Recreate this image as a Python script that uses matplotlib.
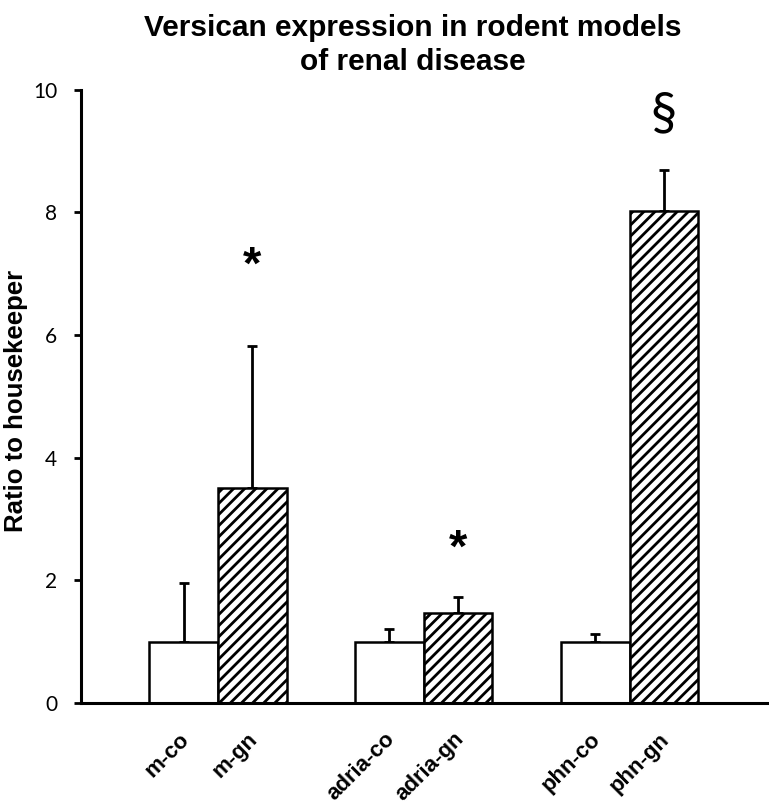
import matplotlib
matplotlib.use("Agg")
import matplotlib.pyplot as plt
import matplotlib.transforms as mtransforms

categories = ["m-co", "m-gn", "adria-co", "adria-gn", "phn-co", "phn-gn"]
positions = [0, 1, 3, 4, 6, 7]
values = [1.0, 3.5, 1.0, 1.47, 1.0, 8.02]
err_upper = [0.95, 2.32, 0.2, 0.26, 0.12, 0.68]
hatched = [False, True, False, True, False, True]
marks = {1: ("*", 6.75), 3: ("*", 2.14), 5: ("§", 9.2)}

plt.rcParams['hatch.linewidth'] = 2.0
fig = plt.figure(figsize=(7.69, 8.09), dpi=100)
ax = fig.add_axes([0.105, 0.131, 0.892, 0.758])

for i, (p, v, e, h) in enumerate(zip(positions, values, err_upper, hatched)):
    ax.bar(p, v, width=1.0, color="white", edgecolor="black", linewidth=1.8,
           hatch="///" if h else None, zorder=2)
    ax.errorbar(p, v, yerr=[[0], [e]], fmt="none", ecolor="black",
                elinewidth=2, capsize=3.5, capthick=2, zorder=1)

for idx, (sym, y) in marks.items():
    if sym == "*":
        ax.text(positions[idx], y, sym, ha="center", va="bottom",
                fontsize=34, fontweight="bold", family="Liberation Sans")
    else:
        ax.text(positions[idx], y, sym, ha="center", va="bottom",
                fontsize=38, family="Lato")

ax.set_xlim(-1.5, 8.5)
ax.set_ylim(0, 10)
ax.set_yticks([0, 2, 4, 6, 8, 10])
ax.set_yticklabels(["0", "2", "4", "6", "8", "10"], fontsize=15, family="Lato")
ax.set_xticks(positions)
ax.set_xticklabels(categories, rotation=45, ha="right", rotation_mode="anchor",
                   fontsize=16, fontweight="bold", family="Liberation Sans")
ax.tick_params(axis="x", length=0, pad=18.5)
ax.tick_params(axis="y", length=5, width=2, direction="out", pad=12)
offset = mtransforms.ScaledTranslation(-5 / 100, 0, fig.dpi_scale_trans)
for lab in ax.get_xticklabels():
    lab.set_transform(lab.get_transform() + offset)
for s in ["top", "right"]:
    ax.spines[s].set_visible(False)
ax.spines["left"].set_linewidth(2.2)
ax.spines["bottom"].set_linewidth(2.2)

fig.text(16 / 769, 1 - 401 / 809, "Ratio to housekeeper", rotation=90,
         ha="center", va="center", fontsize=18.5, fontweight="bold",
         family="Liberation Sans")
fig.text(0.537, 0.983, "Versican expression in rodent models\nof renal disease",
         ha="center", va="top", fontsize=21.5, fontweight="bold",
         family="Liberation Sans", linespacing=1.28)

fig.savefig("out.png", dpi=100)
